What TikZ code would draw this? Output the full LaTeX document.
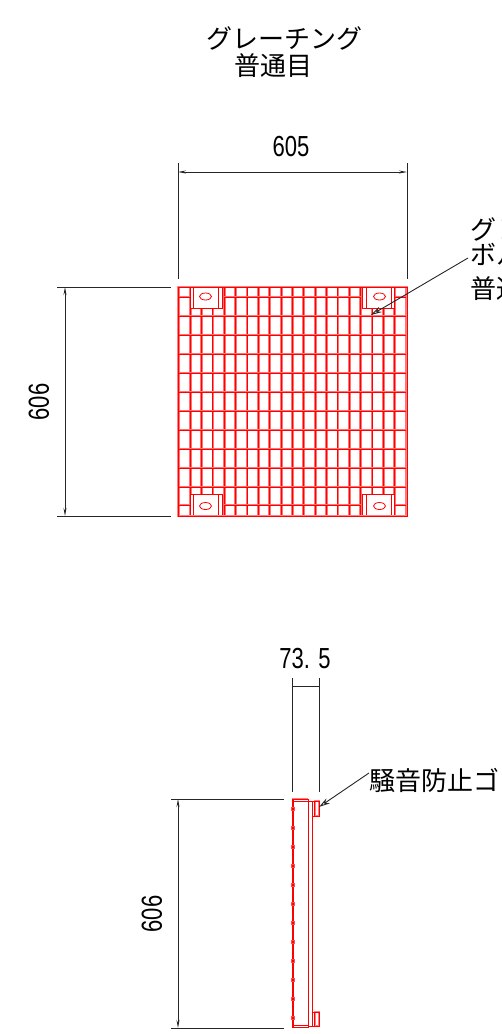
\documentclass[tikz,border=0pt]{standalone}
\usepackage{fontspec}
\setmainfont{Liberation Sans}[FakeStretch=0.76]
\newfontfamily\jpfont{Noto Sans CJK JP}
\usetikzlibrary{arrows.meta}
\tikzset{
	dimtext/.style={font=\fontsize{29}{29}\selectfont,inner sep=0pt},
	jptext/.style={font=\jpfont\fontsize{26}{26}\selectfont,inner sep=0pt},
	dimline/.style={draw=black!85,line width=.9pt},
	dimarrow/.style={dimline,{Stealth[length=8pt,width=3pt]}-{Stealth[length=8pt,width=3pt]}},
	leader/.style={dimline,-{Stealth[open,length=11pt,width=6pt]}},
	gbar/.style={draw=red!55,line width=2.8pt,postaction={draw=red,line width=1pt}},
	gline/.style={draw=red,line width=.8pt},
	gedge/.style={draw=red!50,line width=2pt}
}
\begin{document}
\begin{tikzpicture}[x=1pt,y=-1pt]
	\useasboundingbox (0,0) rectangle (502,1034);

	\node [jptext] (title1) at (284.5,38) {グレーチング};
	\node [jptext] (title2) at (273.5,66) {普通目};

	\foreach \i in {0,...,20}
		\draw [gbar] ({178.8+11.37*\i},287) -- ({178.8+11.37*\i},515);
	\foreach \y in {316,335,354,373,392,411,430,449,468,487}
		\draw [gbar] (178,\y) -- (407,\y);
	\foreach \y in {297,505} {
		\draw [gbar] (178,\y) -- (190,\y);
		\draw [gbar] (224,\y) -- (361,\y);
		\draw [gbar] (395,\y) -- (407,\y);
	}
	\foreach \px/\py/\sx/\sy in {205.5/296.5/1/1,379.5/296.5/-1/1,205.5/506/1/-1,379.5/506/-1/-1} {
		\begin{scope}[shift={(\px,\py)},xscale=\sx,yscale=\sy]
			\fill [white] (-15,-9) rectangle (17,11.5);
			\draw [gline] (-15,-9) -- (-15,11.5) -- (17,11.5) -- (17,-9);
			\draw [gline] (-12,-9) -- (-12,11.5);
			\draw [gline] (13,-9) -- (13,11.5);
			\draw [gline] (0,0) ellipse (6 and 3.5);
		\end{scope}
	}
	\draw [gedge] (178,287) rectangle (407,516);
	\draw [gline] (178,287) rectangle (407,516);

	\coordinate (t1) at (178,163);
	\coordinate (t2) at (178,279);
	\coordinate (t3) at (407,163);
	\coordinate (t4) at (407,279);
	\coordinate (t5) at (178,172);
	\coordinate (t6) at (407,172);
	\draw [dimline] (t1) -- (t2);
	\draw [dimline] (t3) -- (t4);
	\draw [dimarrow] (t5) -- (t6);
	\node [dimtext] (w605) at (291,147) {605};

	\coordinate (l1) at (57,287);
	\coordinate (l2) at (171,287);
	\coordinate (l3) at (57,516);
	\coordinate (l4) at (171,516);
	\coordinate (l5) at (65,287);
	\coordinate (l6) at (65,516);
	\draw [dimline] (l1) -- (l2);
	\draw [dimline] (l3) -- (l4);
	\draw [dimarrow] (l5) -- (l6);
	\node [dimtext,rotate=90] (h606) at (39,402) {606};

	\node [jptext,anchor=west] (note1) at (470,229) {グレ};
	\node [jptext,anchor=west] (note2) at (470,254) {ボル};
	\node [jptext,anchor=west] (note3) at (470,289) {普通};
	\coordinate (n1) at (468,258);
	\coordinate (n2) at (371,315);
	\draw [leader] (n1) -- (n2);

	\draw [gedge] (292,799) -- (308,799);
	\draw [gline] (292,799) -- (292,1027) -- (308,1027) -- (308,799) -- cycle;
	\draw [gline] (293.7,799) -- (293.7,1027);
	\draw [gline] (292,801) -- (308,801);
	\draw [gline] (292,1025) -- (308,1025);
	\draw [gline] (308,801) -- (312,801) -- (312,1026) -- (308,1026);
	\foreach \y/\h in {801/816,1012/1026} {
		\draw [gedge] (315,\y) rectangle (319,\h);
		\draw [gline] (312,\y) rectangle (319,\h);
		\draw [gline] (314.5,\y) -- (314.5,\h);
	}
	\foreach \i in {0,...,11}
		\draw [draw=red!70,line width=.5pt] (291.5,{807.5+19*\i}) rectangle (294.5,{810.5+19*\i});

	\coordinate (s1) at (292,678);
	\coordinate (s2) at (292,792);
	\coordinate (s3) at (319,678);
	\coordinate (s4) at (319,792);
	\coordinate (s5) at (292,686);
	\coordinate (s6) at (319,686);
	\draw [dimline] (s1) -- (s2);
	\draw [dimline] (s3) -- (s4);
	\draw [dimline] (s5) -- (s6);
	\node [dimtext] (d735) at (305,659) {73. 5};

	\coordinate (r1) at (171,799);
	\coordinate (r2) at (284,799);
	\coordinate (r3) at (171,1028);
	\coordinate (r4) at (284,1028);
	\coordinate (r5) at (178,799);
	\coordinate (r6) at (178,1028);
	\draw [dimline] (r1) -- (r2);
	\draw [dimline] (r3) -- (r4);
	\draw [dimarrow] (r5) -- (r6);
	\node [dimtext,rotate=90] (s606) at (152,914) {606};

	\node [jptext,anchor=west] (rubber) at (369,780) {騒音防止ゴ};
	\coordinate (g1) at (369,773);
	\coordinate (g2) at (319,807);
	\draw [leader] (g1) -- (g2);
\end{tikzpicture}
\end{document}
